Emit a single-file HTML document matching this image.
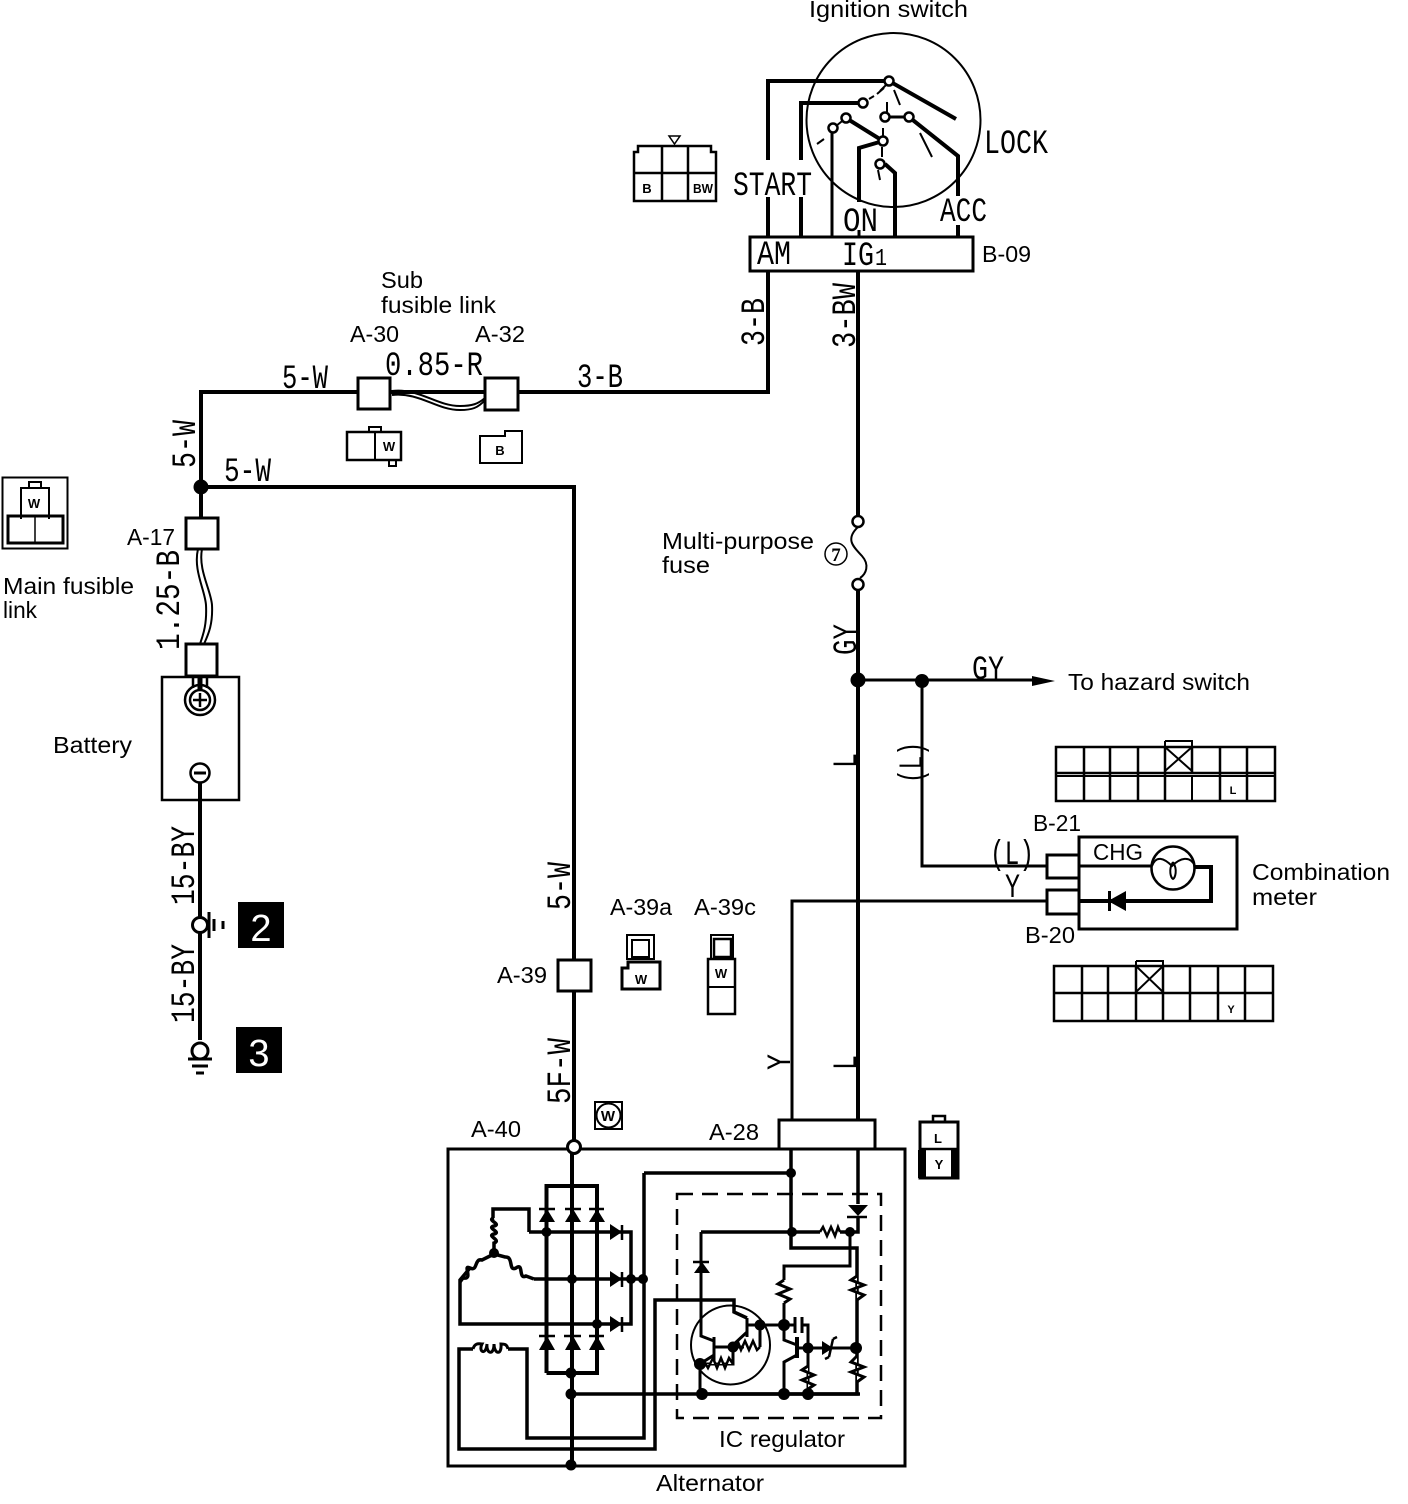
<!DOCTYPE html>
<html><head><meta charset="utf-8"><style>
html,body{margin:0;padding:0;background:#fff}
svg{display:block}
text{font-family:"Liberation Sans",sans-serif;fill:#000}
text.w{font-family:"Liberation Mono",monospace;font-size:34px}
.s{font-size:23px}
.c{font-size:13px;font-weight:bold}
</style></head><body>
<svg xmlns="http://www.w3.org/2000/svg" width="1408" height="1504" viewBox="0 0 1408 1504">
<rect width="1408" height="1504" fill="#fff"/>
<g fill="none" stroke="#000" stroke-width="4" stroke-linejoin="miter">
<!-- ignition switch -->
<circle cx="893.5" cy="120" r="87" stroke-width="2"/>
<path d="M768 160V81H889M768 197V237M801 160V103H863M801 197V237M859 202V148L883 141M846 118L883 141M895 237V173L885 164M909 117L958 156V196M958 225V237M889 81L956 119"/>
<path d="M832 128V237M859 230V237M885 117H909" stroke-width="3"/>
<path d="M895 206V237" stroke-width="4"/>
<path d="M817 144L824 139M836 126L846 118M869 99L874 96M887 102V112M883 128V136M882 147V157M878 170L880 180M884 88L877 94M894 90L900 105M920 133L932 157M880 91L886 85" stroke-width="2"/>
<rect x="750" y="237" width="223" height="34" stroke-width="3"/>
<!-- top wires -->
<path d="M768 271V392H518M485 392H390M358 392H201V487M201 487H574V960M574 991V1141M201 487V518"/>
<path d="M858 271V516M858 590V1120"/>
<path d="M858 680H1042M922 681V866H1047M1047 901H792V1120" stroke-width="3"/>
<path d="M858 590V680" stroke-width="4"/>
<!-- connectors -->
<rect x="358" y="378" width="32" height="31" stroke-width="3"/>
<rect x="485" y="378" width="33" height="32" stroke-width="3"/>
<rect x="186" y="518" width="32" height="31" stroke-width="3"/>
<rect x="186" y="644" width="31" height="32" stroke-width="3"/>
<rect x="558" y="960" width="33" height="31" stroke-width="3"/>
<path d="M392 391C420 388 436 406 460 406C472 406 478 404 485 398" stroke-width="2"/>
<path d="M392 395C420 392 436 410 460 410C472 410 478 408 485 400" stroke-width="2"/>
<path d="M198 549C193 570 205 590 206 605C207 625 203 635 200 644" stroke-width="2"/>
<path d="M202 549C198 570 211 590 212 605C213 625 208 635 204 644" stroke-width="2"/>
<!-- battery -->
<rect x="162" y="677" width="77" height="123" stroke-width="2.5"/>
<circle cx="200" cy="700" r="15" stroke-width="2.5"/><circle cx="200" cy="700" r="10" stroke-width="2.5"/>
<path d="M193 677V688M207 677V688" stroke-width="2.5"/>
<path d="M200 693V707M193 700H207" stroke-width="2.5"/>
<path d="M200 678V690" stroke-width="5"/>
<circle cx="200" cy="773" r="9.5" stroke-width="2.5"/><path d="M194 773H206" stroke-width="3"/>
<path d="M200 783V917M200 933V1040"/>
<circle cx="200" cy="925" r="7.5" stroke-width="3"/>
<circle cx="200" cy="1051" r="8" stroke-width="3"/>
<path d="M209 912V938M214 919V931M223 921V929" stroke-width="3"/>
<path d="M188 1059H212M192 1066H208M196 1073H204" stroke-width="3"/>
<!-- fuse -->
<circle cx="858" cy="521.5" r="5.5" stroke-width="2.5"/><circle cx="858" cy="584.5" r="5.5" stroke-width="2.5"/>
<path d="M858 527C844 540 855 548 862 556C870 565 866 574 860 578" stroke-width="2"/>
<circle cx="836" cy="554" r="11" stroke-width="1.5"/>
<!-- meter -->
<path d="M1079 837H1237V929H1079Z" stroke-width="3"/>
<rect x="1047" y="855" width="32" height="23" stroke-width="3"/>
<rect x="1047" y="890" width="32" height="24" stroke-width="3"/>
<path d="M1079 866H1151" stroke-width="3"/>
<circle cx="1173" cy="868" r="21.5" stroke-width="2.5"/>
<path d="M1152 866C1156 855 1164 858 1172 866C1180 858 1190 855 1195 866" stroke-width="2"/>
<path d="M1173 862C1168 870 1171 878 1173 879C1175 878 1178 870 1173 862" stroke-width="2"/>
<path d="M1195 867H1211V901H1079"/>
<!-- connector grids -->
<path d="M1056 747H1275V801H1056ZM1084 747V801M1110 747V801M1138 747V801M1165 747V801M1192 747V772M1220 747V801M1247 747V801M1056 773H1275" stroke-width="2.5"/>
<path d="M1165 741H1192V747M1165 741V772M1165 747L1192 771M1192 747L1165 771M1056 776H1275M1192 776V801" stroke-width="2"/>
<path d="M1054 966H1273V1021H1054ZM1082 966V1021M1108 966V1021M1136 966V1021M1163 966V1021M1190 966V1021M1218 966V1021M1245 966V1021M1054 993H1273" stroke-width="2.5"/>
<path d="M1136 961H1163V966M1136 961V992M1136 966L1163 992M1163 966L1136 992" stroke-width="2"/>
<!-- small icons -->
<path d="M634 201V152L638 152V146H711V152H716V201ZM662 146V201M688 146V201M634 173H716" stroke-width="2.5"/>
<path d="M669 136H680L674.5 144Z" stroke-width="1.5"/>
<rect x="347" y="432" width="54" height="28" stroke-width="2.5"/><path d="M375 432V460M369 432V427H381V432M389 460V466H396V460" stroke-width="2"/>
<path d="M480 436H505V431H522V463H480Z" stroke-width="2"/>
<rect x="2.5" y="477.5" width="65" height="71" stroke-width="2"/>
<path d="M21 519V488H49V519M29 488V482H41V488" stroke-width="2"/>
<rect x="8" y="516" width="55" height="27" stroke-width="3"/><path d="M35 516V543" stroke-width="1.5"/>
<rect x="627" y="935" width="27" height="24" stroke-width="2"/><rect x="632" y="940" width="17" height="17" stroke-width="2"/>
<path d="M622 968H628V962H660V989H622Z" stroke-width="3"/>
<rect x="711" y="935" width="22" height="24" stroke-width="2"/><rect x="714" y="939" width="17" height="18" stroke-width="2.5"/>
<rect x="708" y="959" width="27" height="55" stroke-width="2.5"/><path d="M708 987H735" stroke-width="2"/>
<rect x="595" y="1102" width="27" height="27" stroke-width="2"/><circle cx="608.5" cy="1115.5" r="12" stroke-width="2" fill="#fff"/>
<rect x="920" y="1122" width="38" height="56" stroke-width="3"/><path d="M933 1122V1116H945V1122M920 1149H958" stroke-width="2.5"/>
<rect x="918" y="1150" width="8" height="28" fill="#000" stroke="none"/><rect x="951" y="1150" width="8" height="28" fill="#000" stroke="none"/>
<!-- alternator box -->
<path d="M568 1149H448V1466H905V1149H580" stroke-width="3"/>
<rect x="779" y="1120" width="96" height="29" stroke-width="3"/>
<circle cx="574" cy="1147" r="6.5" stroke-width="3"/>
<path d="M677 1194H881V1418H677Z" stroke-width="2.5" stroke-dasharray="16 9"/>
<!-- bridge -->
<path d="M572 1153V1465M546.5 1373V1186H597V1373H546.5"/>
<path d="M529 1232H631V1324H460V1280L470 1268M534 1279H644M529 1232V1209H493V1218" stroke-width="3.5"/>
<path d="M644 1173V1438H527V1349H508M473 1349H459V1449H655V1300H734V1312L747 1318M644 1173H791" stroke-width="3.5"/>
<path d="M571 1394H702M702 1394H860" stroke-width="3.5"/>
<!-- coils -->
<path d="M494 1218C486 1220 502 1224 494 1226C486 1228 502 1232 494 1234C486 1236 502 1240 494 1243V1252" stroke-width="3.5"/>
<path d="M494 1254L482 1260C474 1258 478 1272 470 1268C462 1264 474 1280 463 1278L460 1282" stroke-width="3.5"/>
<path d="M494 1254L505 1257C514 1256 508 1272 516 1268C524 1262 518 1280 526 1276L534 1279" stroke-width="3.5"/>
<path d="M473 1349C475 1342 480 1344 482 1344C478 1352 486 1356 487 1344C486 1354 494 1356 494 1344C494 1354 502 1356 501 1344C504 1344 507 1344 508 1349" stroke-width="3"/>
<!-- IC regulator -->
<path d="M791 1149V1248H857V1394H701M701 1232H820M840 1232H850M858 1149V1204M858 1216V1232H850" stroke-width="3.5"/>
<path d="M850 1232V1266H784V1280M784 1303V1340L797 1345M797 1355L784 1362V1394M760 1325H795M802 1325H808V1394M797 1348H856M808 1348V1375" stroke-width="3"/>
<path d="M701 1232V1336L714 1341M714 1337V1362M714 1355L700 1364V1394M714 1347H733M747 1318V1337M747 1325H760V1347M747 1332L733 1345V1364H700M733 1347H744" stroke-width="3"/>
<circle cx="730.5" cy="1345" r="39.5" stroke-width="2"/>
<path d="M795 1317V1333M802 1317V1333M808 1325V1325" stroke-width="3"/>
<path d="M797 1337V1358" stroke-width="4"/>
<path d="M700 1364L704 1361L708 1368L713 1358L717 1368L721 1358L725 1368L729 1358L733 1364" stroke-width="2.5" fill="#fff"/>
<path d="M733 1347L738 1342L741 1350L745 1341L749 1350L753 1341L757 1350L760 1347" stroke-width="2.5" fill="#fff"/>
<path d="M820 1232L823 1227L827 1236L831 1227L835 1236L838 1227L840 1232" stroke-width="2.5" fill="#fff"/>
<path d="M857 1276L851 1280L864 1285L851 1290L864 1295L857 1300" stroke-width="3" fill="#fff"/>
<path d="M784 1280L778 1284L790 1289L778 1294L790 1299L784 1303" stroke-width="3" fill="#fff"/>
<path d="M857 1356L851 1362L864 1367L851 1372L864 1377L857 1382" stroke-width="3" fill="#fff"/>
<path d="M808 1366L802 1370L814 1375L802 1380L814 1385L808 1389" stroke-width="3" fill="#fff"/>
<path d="M847 1217H867M539 1209H555M565 1209H581M589 1209H604M539 1336H555M564 1336H581M589 1336H604M693 1262H709M622 1225V1240M622 1272V1287M622 1317V1332" stroke-width="2.5"/>
<path d="M833 1339L829 1357M833 1339L837 1337M829 1357L825 1359" stroke-width="2.5"/>
</g>
<!-- ignition contact nodes -->
<g fill="#fff" stroke="#000" stroke-width="2.5">
<circle cx="889" cy="81" r="4.5"/><circle cx="863" cy="103" r="4.5"/><circle cx="846" cy="118" r="4.5"/><circle cx="833" cy="128" r="4.5"/><circle cx="883" cy="141" r="4.5"/><circle cx="885" cy="117" r="4.5"/><circle cx="909" cy="117" r="4.5"/><circle cx="880" cy="164" r="4.5"/>
</g>
<g fill="#000" stroke="none">
<!-- dots -->
<circle cx="201" cy="487" r="7.5"/><circle cx="858" cy="680" r="7.5"/><circle cx="922" cy="681" r="7"/>
<circle cx="791" cy="1173" r="5"/><circle cx="792" cy="1232" r="5"/><circle cx="850" cy="1232" r="5"/><circle cx="856" cy="1348" r="6"/><circle cx="808" cy="1348" r="5.5"/><circle cx="784" cy="1325" r="6"/><circle cx="760" cy="1325" r="5.5"/><circle cx="733" cy="1347" r="5.5"/><circle cx="700" cy="1364" r="6"/><circle cx="702" cy="1394" r="6"/><circle cx="784" cy="1394" r="6"/><circle cx="808" cy="1394" r="6"/>
<circle cx="546.5" cy="1232" r="5"/><circle cx="572" cy="1279" r="5"/><circle cx="597" cy="1324" r="5"/><circle cx="631" cy="1279" r="5"/><circle cx="643" cy="1279" r="5"/><circle cx="571" cy="1373" r="5.5"/><circle cx="571" cy="1394" r="5.5"/><circle cx="571" cy="1465" r="5.5"/><circle cx="494" cy="1253" r="5"/>
<!-- diodes and arrow -->
<path d="M1055 681L1032 676V686ZM1108 901L1126 891V911Z"/><rect x="1108" y="891" width="3" height="20"/>
<path d="M539 1222L547 1209L555 1222ZM565 1222L573 1209L581 1222ZM589 1222L597 1209L605 1222ZM539 1350L547 1336L555 1350ZM565 1350L573 1336L581 1350ZM589 1350L597 1336L605 1350ZM610 1224V1240L622 1232ZM610 1271V1287L622 1279ZM610 1316V1332L622 1324ZM848 1205H868L858 1216ZM694 1273L702 1262L710 1273ZM822 1341V1355L833 1348Z"/>
<rect x="238" y="902" width="46" height="46"/><rect x="236" y="1027" width="46" height="46"/>
</g>
<!-- wire labels -->
<g>
<text x="733" y="195" textLength="79" lengthAdjust="spacingAndGlyphs" class="w">START</text>
<text x="984" y="153" textLength="64" lengthAdjust="spacingAndGlyphs" class="w">LOCK</text>
<text x="843" y="231" textLength="35" lengthAdjust="spacingAndGlyphs" class="w">ON</text>
<text x="940" y="221" textLength="47" lengthAdjust="spacingAndGlyphs" class="w">ACC</text>
<text x="757" y="264" textLength="34" lengthAdjust="spacingAndGlyphs" class="w">AM</text>
<text x="842" y="265" textLength="32" lengthAdjust="spacingAndGlyphs" class="w">IG</text>
<text x="875" y="265" textLength="12" lengthAdjust="spacingAndGlyphs" class="w" style="font-size:24px">1</text>
<text x="385" y="375" textLength="98" lengthAdjust="spacingAndGlyphs" class="w">0.85-R</text>
<text x="282" y="388" textLength="46" lengthAdjust="spacingAndGlyphs" class="w">5-W</text>
<text x="577" y="387" textLength="46" lengthAdjust="spacingAndGlyphs" class="w">3-B</text>
<text x="224" y="481" textLength="47" lengthAdjust="spacingAndGlyphs" class="w">5-W</text>
<text x="972" y="679" textLength="32" lengthAdjust="spacingAndGlyphs" class="w">GY</text>
<text x="990" y="864" textLength="44" lengthAdjust="spacingAndGlyphs" class="w">(L)</text>
<text x="1005" y="897" textLength="15" lengthAdjust="spacingAndGlyphs" class="w">Y</text>
<text transform="translate(764 346) rotate(-90)" textLength="48" lengthAdjust="spacingAndGlyphs" class="w">3-B</text>
<text transform="translate(855 348) rotate(-90)" textLength="65" lengthAdjust="spacingAndGlyphs" class="w">3-BW</text>
<text transform="translate(195 468) rotate(-90)" textLength="48" lengthAdjust="spacingAndGlyphs" class="w">5-W</text>
<text transform="translate(179 650) rotate(-90)" textLength="100" lengthAdjust="spacingAndGlyphs" class="w">1.25-B</text>
<text transform="translate(194 905) rotate(-90)" textLength="79" lengthAdjust="spacingAndGlyphs" class="w">15-BY</text>
<text transform="translate(194 1023) rotate(-90)" textLength="79" lengthAdjust="spacingAndGlyphs" class="w">15-BY</text>
<text transform="translate(570 910) rotate(-90)" textLength="48" lengthAdjust="spacingAndGlyphs" class="w">5-W</text>
<text transform="translate(570 1104) rotate(-90)" textLength="66" lengthAdjust="spacingAndGlyphs" class="w">5F-W</text>
<text transform="translate(856 655) rotate(-90)" textLength="31" lengthAdjust="spacingAndGlyphs" class="w">GY</text>
<text transform="translate(856 768) rotate(-90)" textLength="15" lengthAdjust="spacingAndGlyphs" class="w">L</text>
<text transform="translate(922 783) rotate(-90)" textLength="41" lengthAdjust="spacingAndGlyphs" class="w">(L)</text>
<text transform="translate(790 1070) rotate(-90)" textLength="16" lengthAdjust="spacingAndGlyphs" class="w">Y</text>
<text transform="translate(856 1070) rotate(-90)" textLength="15" lengthAdjust="spacingAndGlyphs" class="w">L</text>
</g>
<!-- sans labels -->
<text x="809" y="17" textLength="159" lengthAdjust="spacingAndGlyphs" class="s">Ignition switch</text>
<text x="982" y="262" textLength="49" lengthAdjust="spacingAndGlyphs" class="s">B-09</text>
<text x="381" y="288" textLength="42" lengthAdjust="spacingAndGlyphs" class="s">Sub</text>
<text x="381" y="313" textLength="115" lengthAdjust="spacingAndGlyphs" class="s">fusible link</text>
<text x="350" y="342" textLength="49" lengthAdjust="spacingAndGlyphs" class="s">A-30</text>
<text x="475" y="342" textLength="50" lengthAdjust="spacingAndGlyphs" class="s">A-32</text>
<text x="127" y="545" textLength="48" lengthAdjust="spacingAndGlyphs" class="s">A-17</text>
<text x="3" y="594" textLength="131" lengthAdjust="spacingAndGlyphs" class="s">Main fusible</text>
<text x="3" y="618" textLength="34" lengthAdjust="spacingAndGlyphs" class="s">link</text>
<text x="53" y="753" textLength="79" lengthAdjust="spacingAndGlyphs" class="s">Battery</text>
<text x="497" y="983" textLength="50" lengthAdjust="spacingAndGlyphs" class="s">A-39</text>
<text x="610" y="915" textLength="62" lengthAdjust="spacingAndGlyphs" class="s">A-39a</text>
<text x="694" y="915" textLength="62" lengthAdjust="spacingAndGlyphs" class="s">A-39c</text>
<text x="471" y="1137" textLength="50" lengthAdjust="spacingAndGlyphs" class="s">A-40</text>
<text x="709" y="1140" textLength="50" lengthAdjust="spacingAndGlyphs" class="s">A-28</text>
<text x="1068" y="690" textLength="182" lengthAdjust="spacingAndGlyphs" class="s">To hazard switch</text>
<text x="662" y="549" textLength="152" lengthAdjust="spacingAndGlyphs" class="s">Multi-purpose</text>
<text x="662" y="573" textLength="48" lengthAdjust="spacingAndGlyphs" class="s">fuse</text>
<text x="1033" y="831" textLength="48" lengthAdjust="spacingAndGlyphs" class="s">B-21</text>
<text x="1025" y="943" textLength="50" lengthAdjust="spacingAndGlyphs" class="s">B-20</text>
<text x="1093" y="860" textLength="50" lengthAdjust="spacingAndGlyphs" class="s">CHG</text>
<text x="1252" y="880" textLength="138" lengthAdjust="spacingAndGlyphs" class="s">Combination</text>
<text x="1252" y="905" textLength="65" lengthAdjust="spacingAndGlyphs" class="s">meter</text>
<text x="719" y="1447" textLength="126" lengthAdjust="spacingAndGlyphs" class="s">IC regulator</text>
<text x="656" y="1491" textLength="108" lengthAdjust="spacingAndGlyphs" class="s">Alternator</text>
<text x="836" y="561" text-anchor="middle" style="font-size:19px;font-family:'Liberation Serif',serif;font-weight:bold">7</text>
<text x="261" y="941" text-anchor="middle" style="font-size:38px;fill:#fff">2</text>
<text x="259" y="1066" text-anchor="middle" style="font-size:38px;fill:#fff">3</text>
<text x="647" y="193" text-anchor="middle" class="c">B</text>
<text x="703" y="193" text-anchor="middle" class="c" textLength="20" lengthAdjust="spacingAndGlyphs">BW</text>
<text x="389" y="451" text-anchor="middle" class="c">W</text>
<text x="500" y="455" text-anchor="middle" class="c">B</text>
<text x="34" y="508" text-anchor="middle" class="c">W</text>
<text x="641" y="984" text-anchor="middle" class="c">W</text>
<text x="721" y="978" text-anchor="middle" class="c">W</text>
<text x="608" y="1121" text-anchor="middle" style="font-size:15px;font-weight:bold">W</text>
<text x="938" y="1143" text-anchor="middle" class="c">L</text>
<text x="939" y="1169" text-anchor="middle" class="c">Y</text>
<text x="1233" y="794" text-anchor="middle" class="c" style="font-size:11px">L</text>
<text x="1231" y="1013" text-anchor="middle" class="c" style="font-size:11px">Y</text>
</svg>
</body></html>
